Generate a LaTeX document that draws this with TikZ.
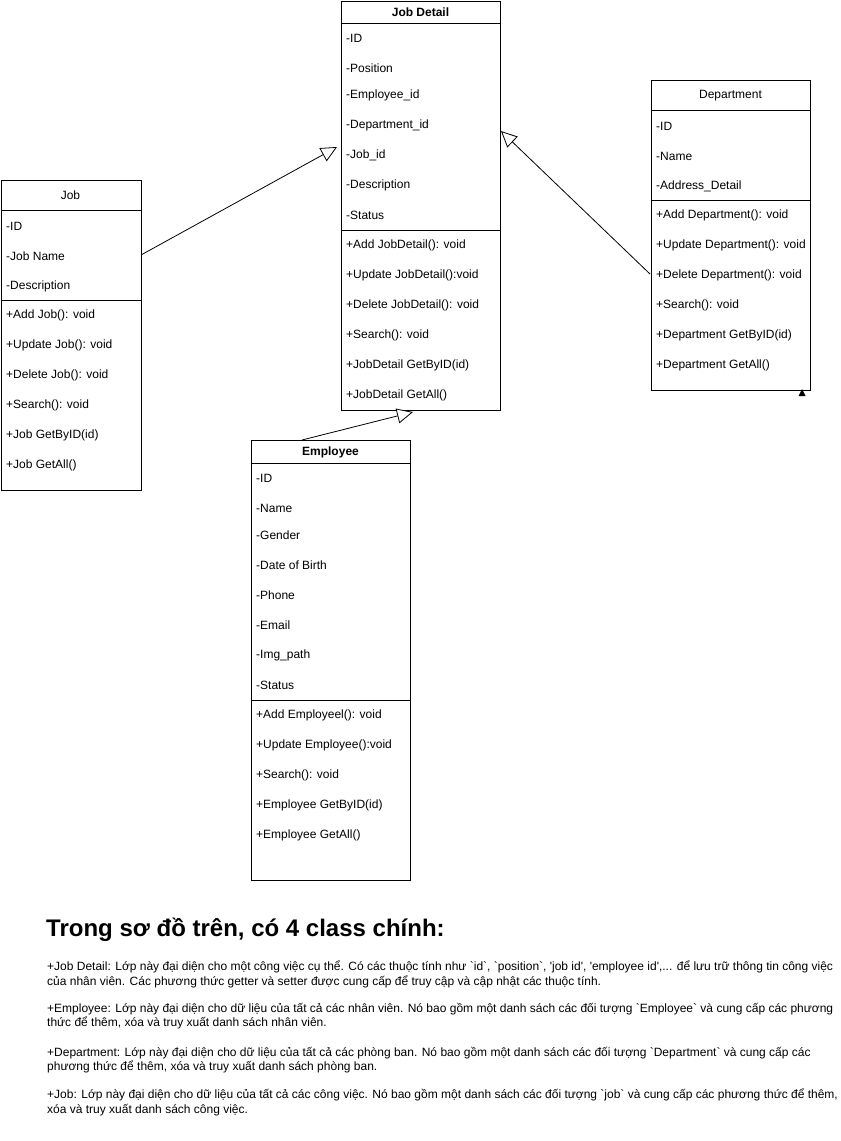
\documentclass[tikz,border=0pt]{standalone}
\usepackage{fontspec}
\setmainfont{Liberation Sans}
\usetikzlibrary{arrows.meta}
\newcommand{\bq}{\textasciigrave}
\newcommand{\sq}{\textquotesingle}
\begin{document}
\begin{tikzpicture}[x=1pt,y=-1pt,
  classbox/.style={draw, line width=0.8pt, fill=white, anchor=north west, inner sep=0pt},
  sepline/.style={line width=0.8pt},
  title/.style={font=\fontsize{12}{14}\selectfont, anchor=center, inner sep=0pt},
  member/.style={font=\fontsize{12}{14}\selectfont, anchor=west, inner sep=0pt},
  inherit/.style={line width=0.8pt, -{Triangle[open, length=16pt, width=15pt, fill=white]}},
  para/.style={font=\fontsize{12}{14.5}\selectfont, anchor=north west, inner sep=0pt, align=left}
]
\useasboundingbox (0,0) rectangle (841,1141);
\fill[white] (0,0) rectangle (841,1141);

% ---------- Job Detail ----------
\node[classbox, minimum width=159pt, minimum height=409pt] (jd) at (341,1) {};
\draw[sepline] (341,23) -- (500,23);
\draw[sepline] (341,230) -- (500,230);
\node[title, font=\fontsize{12}{14}\selectfont\bfseries] (jdT) at (420.5,12.5) {Job Detail};
\node[member] (jd1) at (346,38) {-ID};
\node[member] (jd2) at (346,68) {-Position};
\node[member] (jd3) at (346,95) {-Employee\_id};
\node[member] (jd4) at (346,125) {-Department\_id};
\node[member] (jd5) at (346,155) {-Job\_id};
\node[member] (jd6) at (346,185) {-Description};
\node[member] (jd7) at (346,215) {-Status};
\node[member] (jd8) at (346,245) {+Add JobDetail(): void};
\node[member] (jd9) at (346,275) {+Update JobDetail():void};
\node[member] (jd10) at (346,305) {+Delete JobDetail(): void};
\node[member] (jd11) at (346,335) {+Search(): void};
\node[member] (jd12) at (346,365) {+JobDetail GetByID(id)};
\node[member] (jd13) at (346,395) {+JobDetail GetAll()};

% ---------- Department ----------
\node[classbox, minimum width=159pt, minimum height=310pt] (dep) at (651,80) {};
\draw[sepline] (651,110) -- (810,110);
\draw[sepline] (651,200) -- (810,200);
\node[title] (depT) at (730.5,95.5) {Department};
\node[member] (dep1) at (656,126) {-ID};
\node[member] (dep2) at (656,156) {-Name};
\node[member] (dep3) at (656,186) {-Address\_Detail};
\node[member] (dep4) at (656,215) {+Add Department(): void};
\node[member] (dep5) at (656,245) {+Update Department(): void};
\node[member] (dep6) at (656,275) {+Delete Department(): void};
\node[member] (dep7) at (656,305) {+Search(): void};
\node[member] (dep8) at (656,335) {+Department GetByID(id)};
\node[member] (dep9) at (656,365) {+Department GetAll()};

% ---------- Job ----------
\node[classbox, minimum width=140pt, minimum height=310pt] (job) at (0.5,180) {};
\draw[sepline] (0.5,210) -- (140.5,210);
\draw[sepline] (0.5,300) -- (140.5,300);
\node[title] (jobT) at (70.5,195.5) {Job};
\node[member] (job1) at (6,226) {-ID};
\node[member] (job2) at (6,256) {-Job Name};
\node[member] (job3) at (6,286) {-Description};
\node[member] (job4) at (6,315) {+Add Job(): void};
\node[member] (job5) at (6,345) {+Update Job(): void};
\node[member] (job6) at (6,375) {+Delete Job(): void};
\node[member] (job7) at (6,405) {+Search(): void};
\node[member] (job8) at (6,435) {+Job GetByID(id)};
\node[member] (job9) at (6,465) {+Job GetAll()};

% ---------- Employee ----------
\node[classbox, minimum width=159pt, minimum height=440pt] (emp) at (251,440) {};
\draw[sepline] (251,463) -- (410,463);
\draw[sepline] (251,700) -- (410,700);
\node[title, font=\fontsize{12}{14}\selectfont\bfseries] (empT) at (330.5,452.5) {Employee};
\node[member] (emp1) at (256,478) {-ID};
\node[member] (emp2) at (256,508) {-Name};
\node[member] (emp3) at (256,535) {-Gender};
\node[member] (emp4) at (256,565) {-Date of Birth};
\node[member] (emp5) at (256,595) {-Phone};
\node[member] (emp6) at (256,625) {-Email};
\node[member] (emp7) at (256,655) {-Img\_path};
\node[member] (emp8) at (256,685) {-Status};
\node[member] (emp9) at (256,715) {+Add Employeel(): void};
\node[member] (emp10) at (256,745) {+Update Employee():void};
\node[member] (emp11) at (256,775) {+Search(): void};
\node[member] (emp12) at (256,805) {+Employee GetByID(id)};
\node[member] (emp13) at (256,835) {+Employee GetAll()};

% ---------- connectors ----------
\coordinate (jobOut) at (141,255);
\coordinate (jdInL) at (337,147);
\coordinate (depOut) at (650,274);
\coordinate (jdInR) at (501,131);
\coordinate (empOut) at (302,440);
\coordinate (jdInB) at (413,412);
\draw[inherit] (jobOut) -- (jdInL);
\draw[inherit] (depOut) -- (jdInR);
\draw[inherit] (empOut) -- (jdInB);

% stray small arrow mark at Department corner
\coordinate (markA) at (802,396);
\fill (markA) -- ++(-3.5,0) -- ++(3.5,-7) -- ++(3.5,7) -- cycle;

% ---------- text ----------
\node[anchor=west, inner sep=0pt, font=\fontsize{24}{28}\selectfont\bfseries] (head) at (46,930) {Trong sơ đồ trên, có 4 class chính:};
\node[para] (p1) at (47,961) {+Job Detail: Lớp này đại diện cho một công việc cụ thể. Có các thuộc tính như \bq id\bq, \bq position\bq, \sq job id\sq, \sq employee id\sq,... để lưu trữ thông tin công việc\\của nhân viên. Các phương thức getter và setter được cung cấp để truy cập và cập nhật các thuộc tính.};
\node[para] (p2) at (47,1003) {+Employee: Lớp này đại diện cho dữ liệu của tất cả các nhân viên. Nó bao gồm một danh sách các đối tượng \bq Employee\bq{} và cung cấp các phương\\thức để thêm, xóa và truy xuất danh sách nhân viên.};
\node[para] (p3) at (47,1047) {+Department: Lớp này đại diện cho dữ liệu của tất cả các phòng ban. Nó bao gồm một danh sách các đối tượng \bq Department\bq{} và cung cấp các\\phương thức để thêm, xóa và truy xuất danh sách phòng ban.};
\node[para] (p4) at (47,1089) {+Job: Lớp này đại diện cho dữ liệu của tất cả các công việc. Nó bao gồm một danh sách các đối tượng \bq job\bq{} và cung cấp các phương thức để thêm,\\xóa và truy xuất danh sách công việc.};
\end{tikzpicture}
\end{document}
